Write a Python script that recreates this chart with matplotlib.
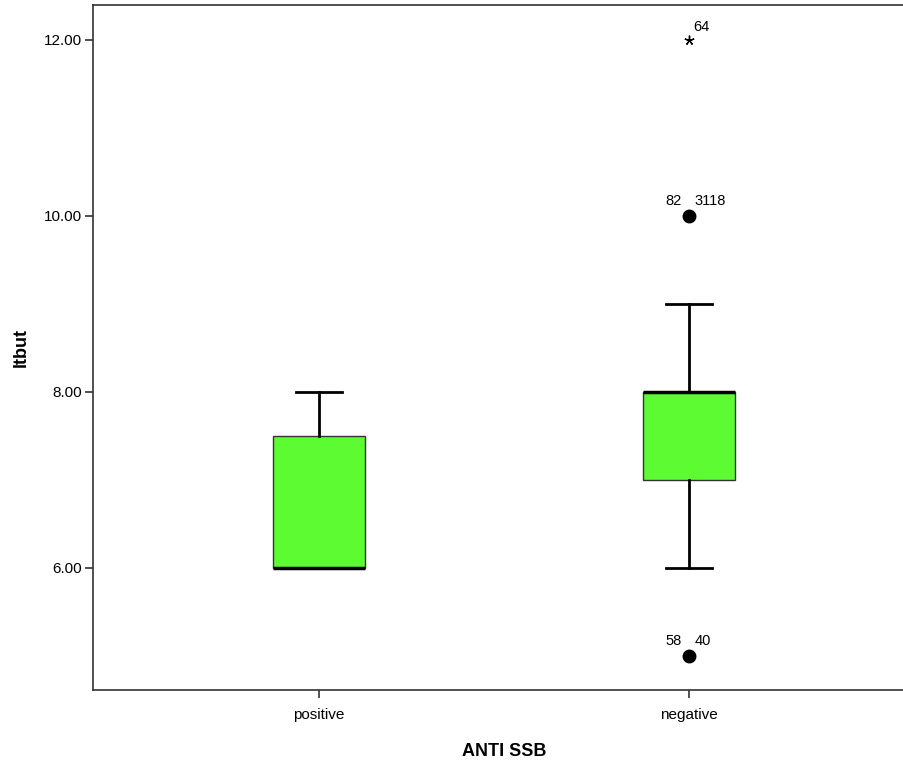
import matplotlib
matplotlib.use("Agg")
import matplotlib.pyplot as plt

# boxplot summary
groups = ["positive", "negative"]
q1 = [6.0, 7.0]
med = [6.0, 8.0]
q3 = [7.5, 8.0]
whislo = [6.0, 6.0]
whishi = [8.0, 9.0]
outliers = [[], [10.0, 5.0]]
extremes = [[], [12.0]]
outlier_labels = [[], [("82", "3118"), ("58", "40")]]
extreme_labels = [[], ["64"]]

plt.rcParams['font.family'] = ['Liberation Sans', 'DejaVu Sans']

fig = plt.figure(figsize=(9.04, 7.64), dpi=100)
ax = fig.add_axes([0.1029, 0.0969, 0.909, 0.8966])

stats = []
for i in range(len(groups)):
    stats.append(dict(med=med[i], q1=q1[i], q3=q3[i],
                      whislo=whislo[i], whishi=whishi[i],
                      fliers=[], label=groups[i]))

pos = list(range(len(groups)))
ax.bxp(stats, positions=pos, widths=0.25, patch_artist=True,
       showfliers=False,
       boxprops=dict(facecolor='#5dfb32', edgecolor='#333333', linewidth=1.0),
       medianprops=dict(color='black', linewidth=2.5),
       whiskerprops=dict(color='black', linewidth=2),
       capprops=dict(color='black', linewidth=2),
       capwidths=0.125)

for i in pos:
    for v, lab in zip(outliers[i], outlier_labels[i]):
        ax.plot(i, v, 'o', color='black', markersize=9)
        ax.annotate(lab[0], (i, v), xytext=(-5, 6), textcoords='offset points',
                    ha='right', va='bottom', fontsize=10.5)
        ax.annotate(lab[1], (i, v), xytext=(4, 6), textcoords='offset points',
                    ha='left', va='bottom', fontsize=10.5)
    for v, lab in zip(extremes[i], extreme_labels[i]):
        ax.plot(i, v, marker=(5, 2, 0), color='black', markersize=7,
                markeredgewidth=1.0)
        ax.annotate(lab, (i, v), xytext=(3, 4), textcoords='offset points',
                    ha='left', va='bottom', fontsize=10.5)

ax.set_xlim(-0.611, 1.611)
ax.set_ylim(4.614, 12.398)
ax.set_yticks([6, 8, 10, 12])
ax.set_yticklabels(["%.2f" % t for t in [6, 8, 10, 12]], fontsize=11)
ax.set_xticks(pos)
ax.set_xticklabels(groups, fontsize=11)
ax.tick_params(direction='out', length=6, width=1.2, color='#333333')
ax.tick_params(axis='x', pad=7)
ax.tick_params(axis='y', pad=2)
for s in ['left', 'bottom', 'top']:
    ax.spines[s].set_color('#333333')
    ax.spines[s].set_linewidth(1.2)
ax.spines['right'].set_visible(False)

ax.set_ylabel("ltbut", fontsize=13, fontweight='bold', labelpad=10)
ax.set_xlabel("ANTI SSB", fontsize=13, fontweight='bold', labelpad=15)

fig.savefig("out.png", dpi=100)
